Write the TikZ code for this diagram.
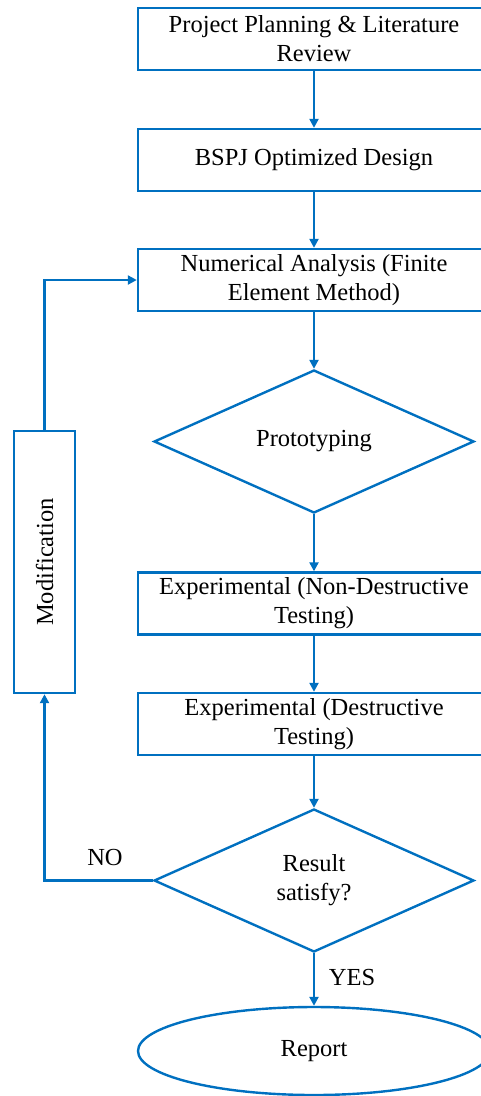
\documentclass[tikz,border=0pt]{standalone}
\usepackage{fontspec}
\setmainfont{Liberation Serif}
\usetikzlibrary{shapes.geometric,arrows.meta}
\definecolor{flowblue}{RGB}{0,112,192}
\tikzset{
  every node/.style={font=\fontsize{24.5}{29}\selectfont, text=black},
  stepbox/.style={draw=flowblue, line width=2.4pt, rectangle, minimum width=352pt,
    minimum height=62pt, inner sep=0pt, align=center},
  decision/.style={draw=flowblue, line width=2.4pt, diamond, minimum width=320pt,
    minimum height=143pt, inner sep=0pt, align=center},
  terminal/.style={draw=flowblue, line width=2.4pt, ellipse, minimum width=352pt,
    minimum height=88pt, inner sep=0pt},
  flow/.style={draw=flowblue, line width=2.4pt, -{Triangle[length=9pt,width=9pt]}},
  tag/.style={inner sep=0pt},
}
\begin{document}
\begin{tikzpicture}[x=1pt,y=-1pt]
  \useasboundingbox (0,0) rectangle (481,1096);
  \clip (0,0) rectangle (481,1096);
  % main column
  \node[stepbox] (plan) at (314,39) {Project Planning \& Literature\\Review};
  \node[stepbox] (design) at (314,160) {BSPJ Optimized Design};
  \node[stepbox] (fem) at (314,280) {Numerical Analysis (Finite\\Element Method)};
  \node[decision] (proto) at (314,441.5) {Prototyping};
  \node[stepbox] (ndt) at (314,603.5) {Experimental (Non-Destructive\\Testing)};
  \node[stepbox] (dt) at (314,724) {Experimental (Destructive\\Testing)};
  \node[decision] (check) at (314,880.5) {Result\\satisfy?};
  \node[terminal] (report) at (314,1051) {Report};
  % feedback loop
  \node[draw=flowblue, line width=2.4pt, rectangle, rotate=90, minimum width=262pt,
    minimum height=61pt, inner sep=0pt] (mod) at (44.5,562) {Modification};
  \coordinate (nocorner) at (44.5,880.5);
  \coordinate (upcorner) at (44.5,280);
  % connectors
  \draw[flow] (plan.south) -- (design.north);
  \draw[flow] (design.south) -- (fem.north);
  \draw[flow] (fem.south) -- (proto.north);
  \draw[flow] (proto.south) -- (ndt.north);
  \draw[flow] (ndt.south) -- (dt.north);
  \draw[flow] (dt.south) -- (check.north);
  \draw[flow] (check.south) -- (report.north);
  \draw[flow] (check.west) -- (nocorner) -- (mod.west);
  \draw[flow] (mod.east) -- (upcorner) -- (fem.west);
  % branch labels
  \node[tag] (nolabel) at (105,857) {NO};
  \node[tag] (yeslabel) at (352,977) {YES};
\end{tikzpicture}
\end{document}
